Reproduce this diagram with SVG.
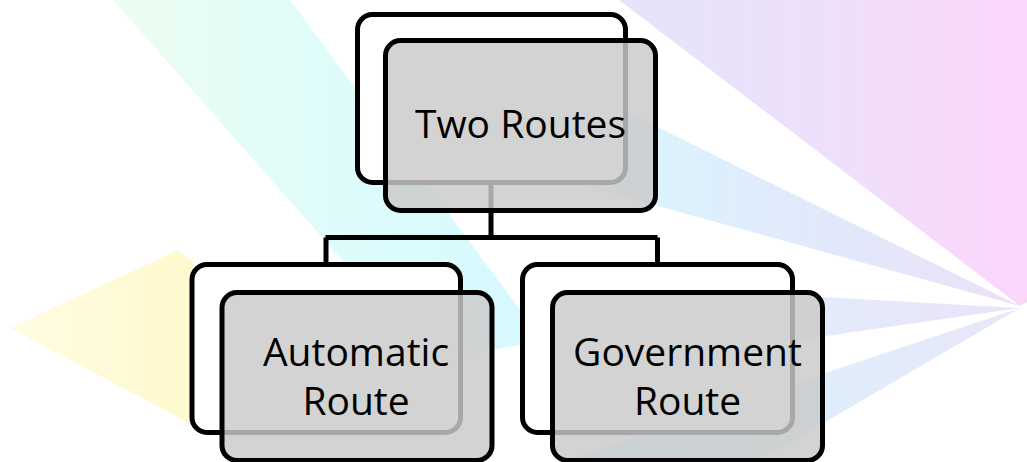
<svg xmlns="http://www.w3.org/2000/svg" width="1027" height="462" viewBox="0 0 1027 462">
  <defs>
    <linearGradient id="gPink" x1="0" y1="0" x2="1" y2="0">
      <stop offset="0" stop-color="#e4e4fa"/>
      <stop offset="0.55" stop-color="#efdffa"/>
      <stop offset="1" stop-color="#fcd6fb"/>
    </linearGradient>
    <linearGradient id="gCyanTL" x1="0" y1="0" x2="1" y2="0">
      <stop offset="0" stop-color="#ecfdf0"/>
      <stop offset="0.5" stop-color="#dffcfb"/>
      <stop offset="1" stop-color="#d6f9ff"/>
    </linearGradient>
    <linearGradient id="gRay2" x1="0" y1="0" x2="1" y2="0">
      <stop offset="0" stop-color="#d8f8fd"/>
      <stop offset="0.6" stop-color="#e2e8fb"/>
      <stop offset="1" stop-color="#ece0f8"/>
    </linearGradient>
    <linearGradient id="gRay3" x1="0" y1="0" x2="1" y2="0">
      <stop offset="0" stop-color="#d8f6fd"/>
      <stop offset="1" stop-color="#ebe3f8"/>
    </linearGradient>
    <linearGradient id="gRay4" x1="0" y1="0" x2="1" y2="0">
      <stop offset="0" stop-color="#d2f8fd"/>
      <stop offset="1" stop-color="#e8e6f8"/>
    </linearGradient>
    <linearGradient id="gYellow" x1="0" y1="0" x2="1" y2="0">
      <stop offset="0" stop-color="#fffce2"/>
      <stop offset="1" stop-color="#fff9cf"/>
    </linearGradient>
  </defs>
  <style>
    .back { fill: #ffffff; stroke: #000000; stroke-width: 5; }
    .front { fill: #cacaca; fill-opacity: 0.83; stroke: #000000; stroke-width: 5; }
    .conn { fill: none; stroke: #000000; stroke-width: 5; }
    .label { font-family: "Open Sans", "Liberation Sans", sans-serif; font-size: 39px; fill: #000000; text-anchor: middle; }
  </style>

  <rect x="0" y="0" width="1027" height="462" fill="#ffffff"/>
  <g id="background">
    <polygon points="619,0 1027,0 1027,302 1020,306" fill="url(#gPink)"/>
    <polygon points="113,0 290,0 535,330 520,345 430,360" fill="url(#gCyanTL)"/>
    <polygon points="1020,306 560,79 560,179" fill="url(#gRay2)"/>
    <polygon points="1020,308 535,281 535,378" fill="url(#gRay3)"/>
    <polygon points="1020,308 560,462 757,462" fill="url(#gRay4)"/>
    <polygon points="10,328 178,250 193,262 193,425 185,421" fill="url(#gYellow)"/>
  </g>

  <g id="connectors">
    <path class="conn" d="M491,183 V237.5 M325.5,237.5 H657.5 M326,237.5 V265 M657.5,237.5 V265"/>
  </g>

  <g id="node-two-routes">
    <rect class="back" x="357.5" y="14.5" width="268" height="168" rx="15" ry="15"/>
    <rect class="front" x="385.5" y="40.5" width="270" height="170" rx="15" ry="15"/>
    <text class="label" x="520.5" y="138">Two Routes</text>
  </g>

  <g id="node-automatic-route">
    <rect class="back" x="192" y="264.5" width="268.5" height="168" rx="15" ry="15"/>
    <rect class="front" x="222" y="292.5" width="270" height="168" rx="15" ry="15"/>
    <text class="label" x="356" y="366">Automatic</text>
    <text class="label" x="356" y="415">Route</text>
  </g>

  <g id="node-government-route">
    <rect class="back" x="522.5" y="264.5" width="270" height="168" rx="15" ry="15"/>
    <rect class="front" x="552.5" y="292.5" width="270" height="168" rx="15" ry="15"/>
    <text class="label" x="687.5" y="366">Government</text>
    <text class="label" x="687.5" y="415">Route</text>
  </g>
</svg>
